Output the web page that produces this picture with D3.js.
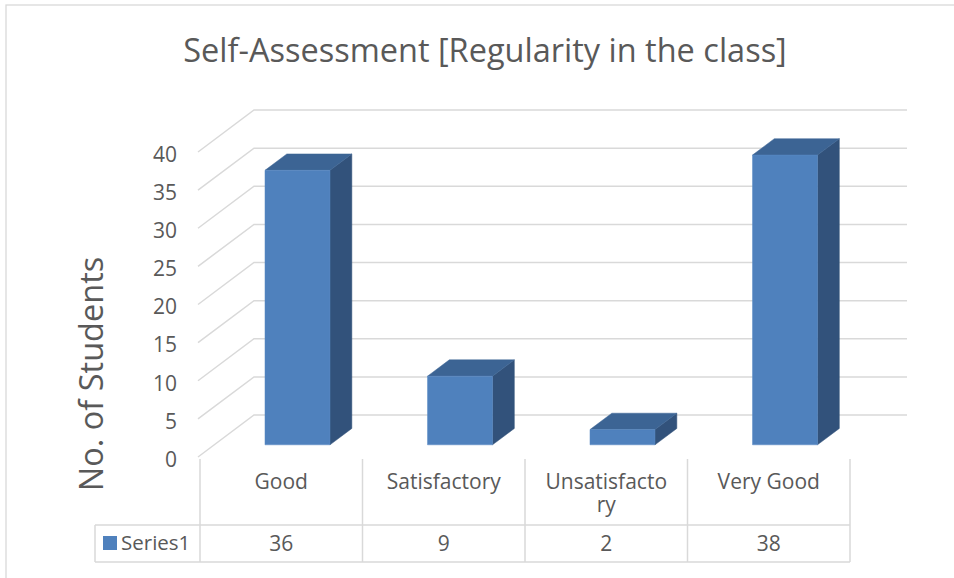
<!DOCTYPE html>
<html>
<head>
<meta charset="utf-8">
<script src="https://cdn.jsdelivr.net/npm/d3@7"></script>
<style>
  html, body { margin: 0; padding: 0; background: #fff; }
  svg { display: block; }
  text { font-family: "Open Sans", "Noto Sans", sans-serif; fill: #595959; }
</style>
</head>
<body>
<svg id="chart" width="954" height="578"></svg>
<script>
// ---- data ----
const categories = ["Good", "Satisfactory", "Unsatisfactory", "Very Good"];
const categoryLabelLines = [["Good"], ["Satisfactory"], ["Unsatisfacto", "ry"], ["Very Good"]];
const seriesName = "Series1";
const values = [36, 9, 2, 38];
const yTicks = [0, 5, 10, 15, 20, 25, 30, 35, 40];
const titleText = "Self-Assessment [Regularity in the class]";
const yTitleText = "No. of Students";

// ---- layout ----
const W = 954, H = 578;
const svg = d3.select("#chart");
const grid = "#d9d9d9";
const depth = { dx: 56, dy: -42 };          // full floor depth
const barD0 = 0.29, barD1 = 0.68;          // bar front/back depth fractions

const y = d3.scaleLinear().domain([0, 40]).range([457, 152]);
const x = d3.scaleBand().domain(categories).range([200, 850]).paddingInner(0).paddingOuter(0);
const barW = x.bandwidth() * 0.4;

const P = (px, v, d) => [px + depth.dx * d, y(v) + depth.dy * d];

// chart border
svg.append("rect").attr("x", 6).attr("y", 5).attr("width", W + 20).attr("height", H + 20)
  .attr("fill", "none").attr("stroke", grid).attr("stroke-width", 1.3);

// title
svg.append("text").attr("x", 485).attr("y", 62).attr("text-anchor", "middle")
  .style("font-size", "32.5px").text(titleText);

// gridlines: diagonal on side wall + horizontal on back wall
const gx0 = 198, gx1 = 907 - depth.dx;
const gl = svg.append("g").attr("stroke", grid).attr("stroke-width", 1.5).attr("fill", "none");
yTicks.forEach(t => {
  const a = P(gx0, t, 0), b = P(gx0, t, 1), c = P(gx1, t, 1);
  gl.append("path").attr("d", d3.line()([a, b, c]));
});

// y tick labels
svg.append("g").selectAll("text").data(yTicks).join("text")
  .attr("x", 177).attr("y", d => y(d) + 2.5).attr("dy", "0.35em").attr("text-anchor", "end")
  .style("font-size", "21px").text(d => d);

// y axis title
svg.append("text").attr("transform", `translate(103,374) rotate(-90)`)
  .attr("text-anchor", "middle").style("font-size", "32.5px").text(yTitleText);

// bars (3D)
const cFront = "#4f81bd", cTop = "#3c6494", cSide = "#32527b";
const bars = svg.append("g");
categories.forEach((c, i) => {
  const v = values[i];
  const cx = x(c) + x.bandwidth() / 2;
  const xl = cx - barW / 2, xr = cx + barW / 2;
  const fBL = P(xl, 0, barD0), fBR = P(xr, 0, barD0), fTL = P(xl, v, barD0), fTR = P(xr, v, barD0);
  const bBR = P(xr, 0, barD1), bTL = P(xl, v, barD1), bTR = P(xr, v, barD1);
  const g = bars.append("g").attr("stroke-linejoin", "round");
  g.append("path").attr("d", d3.line()([fBR, bBR, bTR, fTR]) + "Z").attr("fill", cSide).attr("stroke", cSide).attr("stroke-width", 0.5);
  g.append("path").attr("d", d3.line()([fTL, fTR, bTR, bTL]) + "Z").attr("fill", cTop).attr("stroke", cTop).attr("stroke-width", 0.5);
  g.append("path").attr("d", d3.line()([fBL, fBR, fTR, fTL]) + "Z").attr("fill", cFront).attr("stroke", "#5a8ac4").attr("stroke-width", 0.5);
});

// data table
const rowTop = 459, rowMid = 525, rowBot = 562, legX = 95;
const tl = svg.append("g").attr("stroke", grid).attr("stroke-width", 1.5).attr("fill", "none");
const bounds = categories.map(c => x(c)).concat([x.range()[1]]);
bounds.forEach(bx => tl.append("line").attr("x1", bx).attr("x2", bx).attr("y1", rowTop).attr("y2", rowBot));
tl.append("line").attr("x1", legX).attr("x2", 850).attr("y1", rowMid).attr("y2", rowMid);
tl.append("line").attr("x1", legX).attr("x2", 850).attr("y1", rowBot).attr("y2", rowBot);
tl.append("line").attr("x1", legX).attr("x2", legX).attr("y1", rowMid).attr("y2", rowBot);

// category labels
categories.forEach((c, i) => {
  const t = svg.append("text").attr("x", x(c) + x.bandwidth() / 2).attr("y", 489)
    .attr("text-anchor", "middle").style("font-size", "21px");
  categoryLabelLines[i].forEach((ln, j) => {
    t.append("tspan").attr("x", x(c) + x.bandwidth() / 2).attr("dy", j === 0 ? 0 : 23).text(ln);
  });
});

// values row
svg.append("g").selectAll("text").data(values).join("text")
  .attr("x", (d, i) => x(categories[i]) + x.bandwidth() / 2).attr("y", 551)
  .attr("text-anchor", "middle").style("font-size", "21px").text(d => d);

// legend
svg.append("rect").attr("x", 103).attr("y", 536).attr("width", 14).attr("height", 14).attr("fill", cFront);
svg.append("text").attr("x", 121).attr("y", 550).style("font-size", "20.5px").text(seriesName);
</script>
</body>
</html>
